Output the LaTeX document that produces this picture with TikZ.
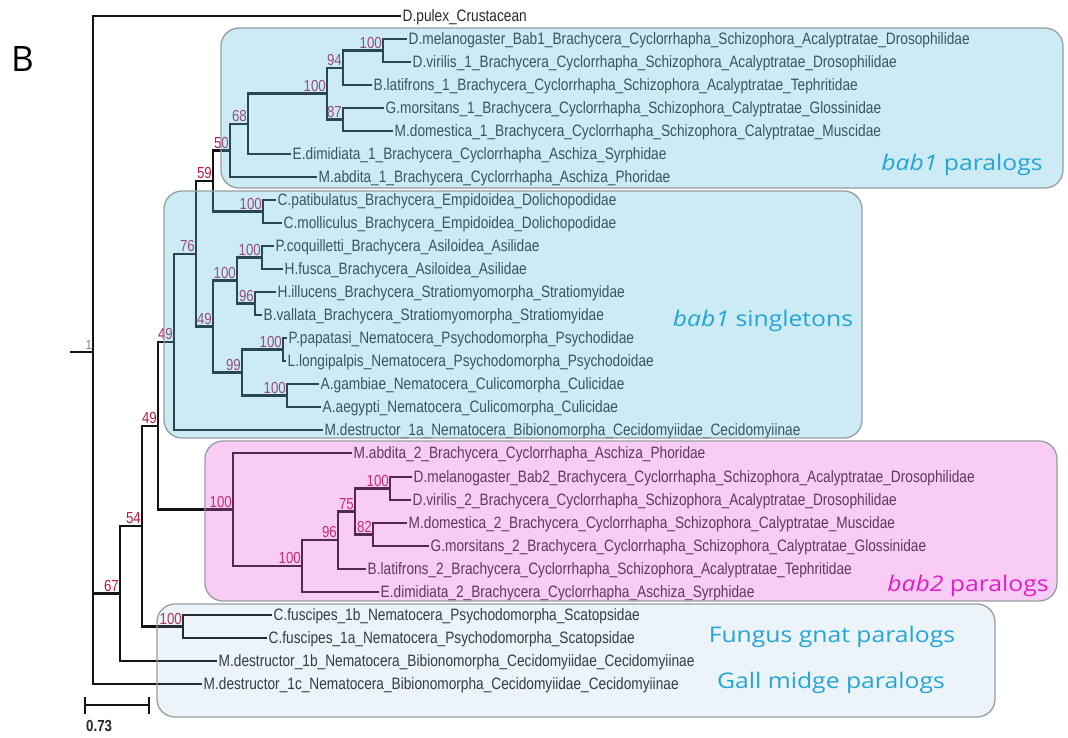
\documentclass[tikz,border=0pt]{standalone}
\usepackage{fontspec}
\setmainfont{Liberation Sans}[FakeStretch=0.83]
\newfontfamily\grpfont{Open Sans}[FakeStretch=1.15]
\newfontfamily\panelfont{Open Sans}
\newcommand\leaffont{\fontsize{16.5}{19}\selectfont}
\newcommand\bootfont{\fontsize{16}{19}\selectfont}
\newcommand\grplabelfont{\grpfont\fontsize{21.5}{25}\selectfont}
\definecolor{bootred}{RGB}{180,30,75}
\definecolor{boxblue}{RGB}{88,192,225}
\definecolor{boxpink}{RGB}{238,88,222}
\definecolor{boxpale}{RGB}{128,182,222}
\definecolor{boxline}{RGB}{150,158,162}
\definecolor{lblblue}{RGB}{35,165,215}
\definecolor{lblpink}{RGB}{225,30,200}
\definecolor{branchcol}{RGB}{20,20,20}
\definecolor{leafcol}{RGB}{40,40,40}
\tikzset{
  branch/.style={line width=2.3pt, draw=branchcol},
  leaf/.style={anchor=west, inner xsep=1.5pt, inner ysep=0pt, font=\leaffont,
    text height=11.8pt, text depth=0pt, text=leafcol},
  boot/.style={anchor=south east, inner sep=0pt, font=\bootfont, text=bootred,
    xshift=-1pt, yshift=2pt},
  grpbox/.style={rounded corners=18pt, draw=boxline, line width=1.3pt},
  grplabel/.style={anchor=base, inner sep=0pt, font=\grplabelfont},
}
\begin{document}
\begin{tikzpicture}[x=1pt,y=-1pt]
\fill[white] (0,0) rectangle (1068,737);
\useasboundingbox (0,0) rectangle (1068,737);

% ---------- leaves ----------
\node[leaf] (l0)  at (401,16)  {D.pulex\_Crustacean};
\node[leaf] (l1)  at (407,39)  {D.melanogaster\_Bab1\_Brachycera\_Cyclorrhapha\_Schizophora\_Acalyptratae\_Drosophilidae};
\node[leaf] (l2)  at (411,62)  {D.virilis\_1\_Brachycera\_Cyclorrhapha\_Schizophora\_Acalyptratae\_Drosophilidae};
\node[leaf] (l3)  at (372,85)  {B.latifrons\_1\_Brachycera\_Cyclorrhapha\_Schizophora\_Acalyptratae\_Tephritidae};
\node[leaf] (l4)  at (384,108) {G.morsitans\_1\_Brachycera\_Cyclorrhapha\_Schizophora\_Calyptratae\_Glossinidae};
\node[leaf] (l5)  at (393,131) {M.domestica\_1\_Brachycera\_Cyclorrhapha\_Schizophora\_Calyptratae\_Muscidae};
\node[leaf] (l6)  at (291,154) {E.dimidiata\_1\_Brachycera\_Cyclorrhapha\_Aschiza\_Syrphidae};
\node[leaf] (l7)  at (317,177) {M.abdita\_1\_Brachycera\_Cyclorrhapha\_Aschiza\_Phoridae};
\node[leaf] (l8)  at (276,200) {C.patibulatus\_Brachycera\_Empidoidea\_Dolichopodidae};
\node[leaf] (l9)  at (282,223) {C.molliculus\_Brachycera\_Empidoidea\_Dolichopodidae};
\node[leaf] (l10) at (274,246) {P.coquilletti\_Brachycera\_Asiloidea\_Asilidae};
\node[leaf] (l11) at (283,269) {H.fusca\_Brachycera\_Asiloidea\_Asilidae};
\node[leaf] (l12) at (276,292) {H.illucens\_Brachycera\_Stratiomyomorpha\_Stratiomyidae};
\node[leaf] (l13) at (262,315) {B.vallata\_Brachycera\_Stratiomyomorpha\_Stratiomyidae};
\node[leaf] (l14) at (287,338) {P.papatasi\_Nematocera\_Psychodomorpha\_Psychodidae};
\node[leaf] (l15) at (286,361) {L.longipalpis\_Nematocera\_Psychodomorpha\_Psychodoidae};
\node[leaf] (l16) at (319,384) {A.gambiae\_Nematocera\_Culicomorpha\_Culicidae};
\node[leaf] (l17) at (321,407) {A.aegypti\_Nematocera\_Culicomorpha\_Culicidae};
\node[leaf] (l18) at (323,430) {M.destructor\_1a\_Nematocera\_Bibionomorpha\_Cecidomyiidae\_Cecidomyiinae};
\node[leaf] (l19) at (352,453) {M.abdita\_2\_Brachycera\_Cyclorrhapha\_Aschiza\_Phoridae};
\node[leaf] (l20) at (412,477) {D.melanogaster\_Bab2\_Brachycera\_Cyclorrhapha\_Schizophora\_Acalyptratae\_Drosophilidae};
\node[leaf] (l21) at (411,500) {D.virilis\_2\_Brachycera\_Cyclorrhapha\_Schizophora\_Acalyptratae\_Drosophilidae};
\node[leaf] (l22) at (407,523) {M.domestica\_2\_Brachycera\_Cyclorrhapha\_Schizophora\_Calyptratae\_Muscidae};
\node[leaf] (l23) at (429,546) {G.morsitans\_2\_Brachycera\_Cyclorrhapha\_Schizophora\_Calyptratae\_Glossinidae};
\node[leaf] (l24) at (366,569) {B.latifrons\_2\_Brachycera\_Cyclorrhapha\_Schizophora\_Acalyptratae\_Tephritidae};
\node[leaf] (l25) at (379,592) {E.dimidiata\_2\_Brachycera\_Cyclorrhapha\_Aschiza\_Syrphidae};
\node[leaf] (l26) at (272,615) {C.fuscipes\_1b\_Nematocera\_Psychodomorpha\_Scatopsidae};
\node[leaf] (l27) at (267,638) {C.fuscipes\_1a\_Nematocera\_Psychodomorpha\_Scatopsidae};
\node[leaf] (l28) at (217,661) {M.destructor\_1b\_Nematocera\_Bibionomorpha\_Cecidomyiidae\_Cecidomyiinae};
\node[leaf] (l29) at (202,684) {M.destructor\_1c\_Nematocera\_Bibionomorpha\_Cecidomyiidae\_Cecidomyiinae};

% ---------- internal nodes ----------
\coordinate (rstem) at (70,352);
\coordinate (root)  at (93,352);
\coordinate (n67)   at (120,593.6);
\coordinate (n54)   at (142,526.1);
\coordinate (n100x) at (183,626.5);
\coordinate (n49b)  at (158,425.8);
\coordinate (n49a)  at (174,341.9);
\coordinate (n76)   at (196,253.75);
\coordinate (n59)   at (213,181);
\coordinate (n50)   at (230,150.5);
\coordinate (n68)   at (248,124);
\coordinate (n100d) at (327,93.6);
\coordinate (n94)   at (343,67.75);
\coordinate (n100a) at (383,50.5);
\coordinate (n87)   at (343,119.5);
\coordinate (n100h) at (263,211.5);
\coordinate (n49c)  at (213,326.5);
\coordinate (n100k) at (237,280.5);
\coordinate (n100i) at (262,257.5);
\coordinate (n96a)  at (255,303.5);
\coordinate (n99)   at (242,372.5);
\coordinate (n100l) at (283,349.5);
\coordinate (n100m) at (287,395.5);
\coordinate (n100w) at (233,509.6);
\coordinate (n100v) at (302,566.1);
\coordinate (n96b)  at (338,540.25);
\coordinate (n75)   at (355,511.5);
\coordinate (n100r) at (390,488.5);
\coordinate (n82)   at (373,534.5);

% ---------- branches ----------
\draw[branch] (rstem) -- (root);
\draw[branch] (root) |- (l0.west);  \draw[branch] (root) |- (n67);  \draw[branch] (root) |- (l29.west);
\draw[branch] (n67) |- (n54);       \draw[branch] (n67) |- (l28.west);
\draw[branch] (n54) |- (n49b);      \draw[branch] (n54) |- (n100x);
\draw[branch] (n100x) |- (l26.west); \draw[branch] (n100x) |- (l27.west);
\draw[branch] (n49b) |- (n49a);     \draw[branch] (n49b) |- (n100w);
\draw[branch] (n49a) |- (n76);      \draw[branch] (n49a) |- (l18.west);
\draw[branch] (n76) |- (n59);       \draw[branch] (n76) |- (n49c);
\draw[branch] (n59) |- (n50);       \draw[branch] (n59) |- (n100h);
\draw[branch] (n50) |- (n68);       \draw[branch] (n50) |- (l7.west);
\draw[branch] (n68) |- (n100d);     \draw[branch] (n68) |- (l6.west);
\draw[branch] (n100d) |- (n94);     \draw[branch] (n100d) |- (n87);
\draw[branch] (n94) |- (n100a);     \draw[branch] (n94) |- (l3.west);
\draw[branch] (n100a) |- (l1.west); \draw[branch] (n100a) |- (l2.west);
\draw[branch] (n87) |- (l4.west);   \draw[branch] (n87) |- (l5.west);
\draw[branch] (n100h) |- (l8.west); \draw[branch] (n100h) |- (l9.west);
\draw[branch] (n49c) |- (n100k);    \draw[branch] (n49c) |- (n99);
\draw[branch] (n100k) |- (n100i);   \draw[branch] (n100k) |- (n96a);
\draw[branch] (n100i) |- (l10.west); \draw[branch] (n100i) |- (l11.west);
\draw[branch] (n96a) |- (l12.west); \draw[branch] (n96a) |- (l13.west);
\draw[branch] (n99) |- (n100l);     \draw[branch] (n99) |- (n100m);
\draw[branch] (n100l) |- (l14.west); \draw[branch] (n100l) |- (l15.west);
\draw[branch] (n100m) |- (l16.west); \draw[branch] (n100m) |- (l17.west);
\draw[branch] (n100w) |- (l19.west); \draw[branch] (n100w) |- (n100v);
\draw[branch] (n100v) |- (n96b);    \draw[branch] (n100v) |- (l25.west);
\draw[branch] (n96b) |- (n75);      \draw[branch] (n96b) |- (l24.west);
\draw[branch] (n75) |- (n100r);     \draw[branch] (n75) |- (n82);
\draw[branch] (n100r) |- (l20.west); \draw[branch] (n100r) |- (l21.west);
\draw[branch] (n82) |- (l22.west);  \draw[branch] (n82) |- (l23.west);

% ---------- bootstrap support ----------
\node[boot, text=gray, font=\fontsize{13}{15}\selectfont] (broot) at (root) {1};
\node[boot] (b67)   at (n67)   {67};
\node[boot] (b54)   at (n54)   {54};
\node[boot] (bx)    at (n100x) {100};
\node[boot] (b49b)  at (n49b)  {49};
\node[boot] (b49a)  at (n49a)  {49};
\node[boot] (b76)   at (n76)   {76};
\node[boot] (b59)   at (n59)   {59};
\node[boot] (b50)   at (n50)   {50};
\node[boot] (b68)   at (n68)   {68};
\node[boot] (bd)    at (n100d) {100};
\node[boot] (b94)   at (n94)   {94};
\node[boot] (ba)    at (n100a) {100};
\node[boot] (b87)   at (n87)   {87};
\node[boot] (bh)    at (n100h) {100};
\node[boot] (b49c)  at (n49c)  {49};
\node[boot] (bk)    at (n100k) {100};
\node[boot] (bi)    at (n100i) {100};
\node[boot] (b96a)  at (n96a)  {96};
\node[boot] (b99)   at (n99)   {99};
\node[boot] (bl)    at (n100l) {100};
\node[boot] (bm)    at (n100m) {100};
\node[boot] (bw)    at (n100w) {100};
\node[boot] (bv)    at (n100v) {100};
\node[boot] (b96b)  at (n96b)  {96};
\node[boot] (b75)   at (n75)   {75};
\node[boot] (br)    at (n100r) {100};
\node[boot] (b82)   at (n82)   {82};

% ---------- clade boxes (tinted overlays) ----------
\draw[grpbox, fill=boxblue, fill opacity=0.3] (221,28) rectangle (1063,188);
\draw[grpbox, fill=boxblue, fill opacity=0.3] (164,191) rectangle (862,438);
\draw[grpbox, fill=boxpink, fill opacity=0.3] (205,441) rectangle (1057,601);
\draw[grpbox, fill=boxpale, fill opacity=0.15] (157,604) rectangle (995,717);

% ---------- clade labels ----------
\node[grplabel, text=lblblue] (gpar1) at (962,170) {\itshape bab1\upshape{} paralogs};
\node[grplabel, text=lblblue] (gsing) at (763,326) {\itshape bab1\upshape{} singletons};
\node[grplabel, text=lblpink] (gpar2) at (968,591) {\itshape bab2\upshape{} paralogs};
\node[grplabel, text=lblblue] (gfung) at (832,642) {Fungus gnat paralogs};
\node[grplabel, text=lblblue] (ggall) at (831,688) {Gall midge paralogs};

% ---------- panel letter ----------
\node[anchor=base west, inner sep=0pt, font=\panelfont\fontsize{35}{38}\selectfont] (panel) at (11,71) {B};

% ---------- scale bar ----------
\coordinate (sbL) at (85,705);
\coordinate (sbR) at (149,705);
\draw[branch] (sbL) -- (sbR);
\draw[branch] ([yshift=8pt]sbL) -- ([yshift=-9pt]sbL);
\draw[branch] ([yshift=8pt]sbR) -- ([yshift=-9pt]sbR);
\node[anchor=north west, inner sep=0pt, font=\bfseries\fontsize{16}{18}\selectfont, text=leafcol] (sblabel) at (86,720) {0.73};
\end{tikzpicture}
\end{document}
